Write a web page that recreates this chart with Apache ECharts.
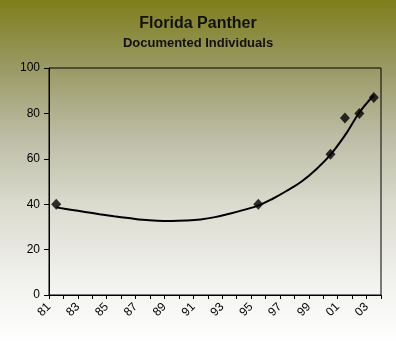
<!DOCTYPE html>
<html>
<head>
<meta charset="utf-8">
<script src="https://cdn.jsdelivr.net/npm/echarts@6/dist/echarts.min.js"></script>
<style>
  html, body { margin: 0; padding: 0; }
  #chart { width: 396px; height: 344px; }
</style>
</head>
<body>
<div id="chart"></div>
<script>
// Year categories along the x axis (1981 - 2003)
const years = ['81','82','83','84','85','86','87','88','89','90','91','92',
               '93','94','95','96','97','98','99','00','01','02','03'];
// Years with a documented count, and the counts
const obsYears = ['81', '95', '00', '01', '02', '03'];
const obsCounts = [40, 40, 62, 78, 80, 87];
// Trend curve value for each year
const trendValues = [38.6, 37.6, 36.6, 35.6, 34.7, 33.9, 33.1, 32.7, 32.6, 32.8, 33.3, 34.3,
                     35.8, 37.5, 39.4, 42.4, 46.0, 50.0, 55.3, 61.8, 70.3, 80.4, 88.0];
// Value axis ticks
const yTicks = { min: 0, max: 100, step: 20 };

// Each year occupies one slot on the x axis; marks sit at the slot centre
const slotCentre = i => i + 0.5;
const points = obsYears.map((y, k) => [slotCentre(years.indexOf(y)), obsCounts[k]]);
const trend = trendValues.map((v, i) => [slotCentre(i), v]);

const chart = echarts.init(document.getElementById('chart'));
chart.setOption({
  animation: false,
  backgroundColor: {
    type: 'linear', x: 0, y: 0, x2: 0, y2: 1,
    colorStops: [
      { offset: 0, color: '#7e7e1c' },
      { offset: 0.2, color: '#9a9a66' },
      { offset: 0.4, color: '#bdbda6' },
      { offset: 0.6, color: '#dbdbcf' },
      { offset: 0.8, color: '#f0f0ec' },
      { offset: 1, color: '#ffffff' }
    ]
  },
  title: {
    text: 'Florida Panther',
    subtext: 'Documented Individuals',
    left: 'center',
    top: 10,
    itemGap: 3,
    textStyle: { fontFamily: 'Liberation Sans', fontSize: 16, fontWeight: 'bold', color: '#111', lineHeight: 18 },
    subtextStyle: { fontFamily: 'Liberation Sans', fontSize: 13, fontWeight: 'bold', color: '#111', lineHeight: 15 }
  },
  grid: {
    left: 49, right: 15, top: 68, bottom: 49,
    show: true, borderColor: '#000', borderWidth: 1, backgroundColor: 'transparent'
  },
  xAxis: {
    type: 'value',
    min: 0, max: years.length, interval: 1,
    splitLine: { show: false },
    axisLine: { lineStyle: { color: '#000', width: 1 } },
    axisTick: { length: 4, lineStyle: { color: '#000' } },
    axisLabel: {
      rotate: 45, margin: 10,
      fontFamily: 'Liberation Sans', fontSize: 12, color: '#000',
      formatter: v => (v % 2 === 0 && v < years.length) ? years[v] : ''
    }
  },
  yAxis: {
    type: 'value',
    min: yTicks.min, max: yTicks.max, interval: yTicks.step,
    splitLine: { show: false },
    axisLine: { show: true, lineStyle: { color: '#000', width: 1 } },
    axisTick: { show: true, length: 5, lineStyle: { color: '#000' } },
    axisLabel: { margin: 9, fontFamily: 'Liberation Sans', fontSize: 12, color: '#000' }
  },
  series: [
    {
      type: 'line',
      data: trend,
      smooth: 0.4,
      showSymbol: false,
      lineStyle: { color: '#000', width: 2 },
      z: 2
    },
    {
      type: 'scatter',
      data: points,
      symbol: 'diamond',
      symbolSize: [10, 11],
      itemStyle: { color: '#000' },
      z: 3
    }
  ]
});
</script>
</body>
</html>
